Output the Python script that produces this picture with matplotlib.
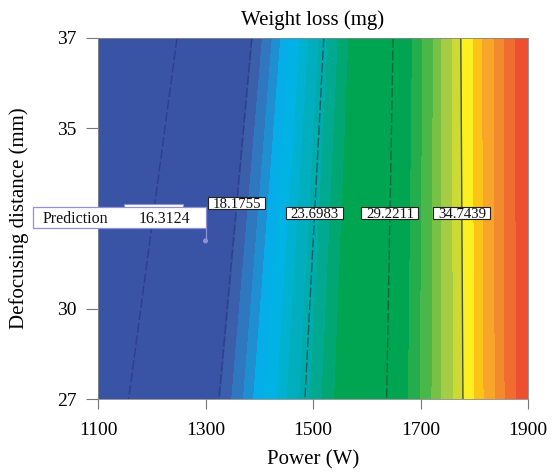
import numpy as np
import matplotlib
matplotlib.use('Agg')
import matplotlib.pyplot as plt
from matplotlib.colors import ListedColormap, BoundaryNorm
from matplotlib.patches import Rectangle, Circle
from matplotlib.lines import Line2D
from matplotlib.transforms import IdentityTransform

# ---------------- data ----------------
contour_levels = [12.6527, 18.1755, 23.6983, 29.2211, 34.7439]
power_at_d27 = [1157, 1325, 1485, 1637, 1779]   # where each contour meets D = 27 mm
power_at_d37 = [1247, 1386, 1520, 1649, 1775]   # where each contour meets D = 37 mm
edge_power = [1100, 1900]
z_edge_d27 = [10.8, 39.7]
z_edge_d37 = [6.8, 39.7]
distance_range = [27, 37]

label_texts = ['18.1755', '23.6983', '29.2211', '34.7439']

pred_power = 1300
pred_distance = 31.38
pred_value = '16.3124'

xtick_values = [1100, 1300, 1500, 1700, 1900]
xtick_labels = ['1100', '1300', '1500', '1700', '1900']
ytick_values = [27, 29.5, 34.5, 37]
ytick_labels = ['27', '30', '35', '37']

band_levels = [18.3, 19.0, 19.75, 20.4, 21.1, 21.9, 22.55, 23.35, 24.05, 24.85,
               25.7, 30.8, 31.65, 32.5, 33.2, 34.05, 34.8, 35.65, 36.35, 37.2,
               37.95, 38.8]
band_colors = ['#3c5fab', '#2f77bf', '#1f8fd2', '#05aee9', '#00b3e4', '#00b1d0',
               '#00aebd', '#00abab', '#00a98f', '#00a772', '#00a551',
               '#23ad4c', '#4bb748', '#79c144', '#a4cc45', '#ccda33',
               '#fef020', '#fdc418', '#f8a52a', '#f38a2d', '#f06d2f']
under_color = '#3954a4'
over_color = '#ee4f31'

# ---------------- style ----------------
plt.rcParams['font.family'] = ['Liberation Serif', 'DejaVu Serif']
line_colors = ['#2b3f8e', '#2b3f8e', '#0b5f63', '#0b6a3a', '#4a5040']
line_styles = [(0, (7, 2)), (0, (7, 2)), (0, (7, 2)), (0, (7, 2)), 'solid']
label_distance = [32.43, 32.15, 32.15, 32.15]

W, H = 555, 474
fig = plt.figure(figsize=(W / 100, H / 100), dpi=100)
ax = fig.add_axes([98 / W, 1 - 399 / H, 430 / W, 361 / H])

# ---------------- field built from the read contour positions ----------------
P = np.linspace(edge_power[0], edge_power[1], 801)
D = np.linspace(distance_range[0], distance_range[1], 201)
Z = np.empty((len(D), len(P)))
p27 = np.array(power_at_d27, float)
p37 = np.array(power_at_d37, float)
for i, d in enumerate(D):
    t = (d - distance_range[0]) / (distance_range[1] - distance_range[0])
    pk = (1 - t) * p27 + t * p37
    zl = (1 - t) * z_edge_d27[0] + t * z_edge_d37[0]
    zr = (1 - t) * z_edge_d27[1] + t * z_edge_d37[1]
    Z[i] = np.interp(P, np.r_[edge_power[0], pk, edge_power[1]],
                     np.r_[zl, contour_levels, zr])

cmap = ListedColormap(band_colors)
cmap.set_under(under_color)
cmap.set_over(over_color)
norm = BoundaryNorm(band_levels, cmap.N)
ax.contourf(P, D, Z, levels=band_levels, cmap=cmap, norm=norm, extend='both',
            antialiased=False)
ax.contour(P, D, Z, levels=contour_levels, colors=line_colors,
           linestyles=line_styles, linewidths=1.0)

ax.set_xlim(edge_power)
ax.set_ylim(distance_range)
ax.set_xticks(xtick_values)
ax.set_xticklabels(xtick_labels)
ax.set_yticks(ytick_values)
ax.set_yticklabels(ytick_labels)
ax.tick_params(axis='x', direction='out', length=7.5, width=0.8,
               color='#777777', labelsize=14, pad=9)
ax.tick_params(axis='y', direction='out', length=8.5, width=0.8,
               color='#777777', labelsize=14, pad=7)
for s in ax.spines.values():
    s.set_color('#888888')
    s.set_linewidth(0.6)

ax.set_title('Weight loss (mg)', fontsize=15, pad=9)
ax.set_xlabel('Power (W)', fontsize=15, labelpad=8)
ax.set_ylabel('Defocusing distance (mm)', fontsize=15, labelpad=20)

idt = IdentityTransform()

# contour value labels in white boxes
for k, txt in enumerate(label_texts):
    lvl = k + 1
    d = label_distance[k]
    t = (d - distance_range[0]) / (distance_range[1] - distance_range[0])
    p = (1 - t) * power_at_d27[lvl] + t * power_at_d37[lvl]
    cx, cy = ax.transData.transform((p, d))
    bw, bh = 57, 12
    fig.add_artist(Rectangle((cx - bw / 2, cy - bh / 2), bw, bh, transform=idt,
                             facecolor='white', edgecolor='#222222', lw=0.8,
                             zorder=5))
    fig.text(cx, cy - 5, txt, transform=idt, ha='center', va='baseline',
             fontsize=10.7, color='#111111', zorder=6)

# prediction flag
px, py = ax.transData.transform((pred_power, pred_distance))
flag_col = '#9191d6'
fig.add_artist(Rectangle((px - 82, py + 26), 59, 11, transform=idt,
                         facecolor='white', edgecolor=flag_col, lw=0.8, zorder=6))
fig.add_artist(Rectangle((px - 173, py + 13), 173, 21, transform=idt,
                         facecolor='white', edgecolor=flag_col, lw=0.9, zorder=7))
fig.add_artist(Line2D([px, px], [py, py + 13], transform=idt, color=flag_col,
                      lw=0.9, zorder=7))
fig.add_artist(Circle((px, py), 1.8, transform=idt, color=flag_col, zorder=7))
fig.text(px - 163, py + 18, 'Prediction', transform=idt, ha='left',
         va='baseline', fontsize=11.5, color='#111111', zorder=8)
fig.text(px - 15, py + 18, pred_value, transform=idt, ha='right',
         va='baseline', fontsize=11.5, color='#111111', zorder=8)

fig.savefig('out.png', dpi=100)
